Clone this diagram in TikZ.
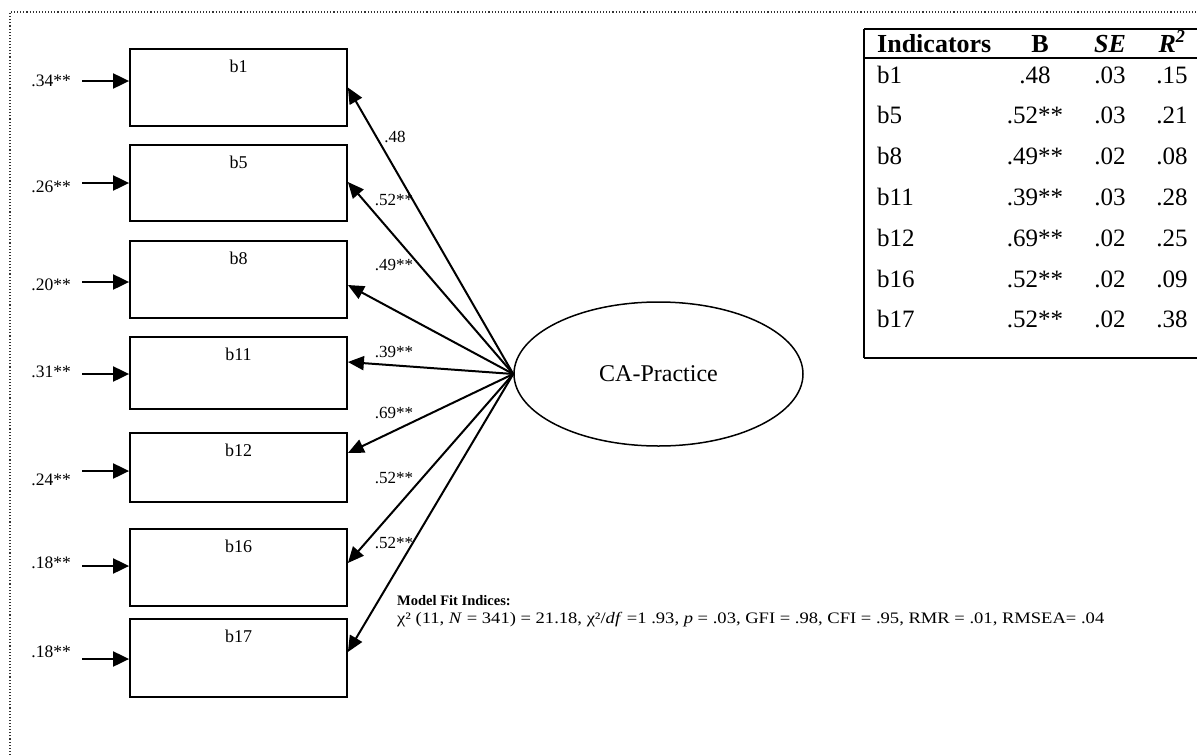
\documentclass[tikz,border=0pt]{standalone}
\usepackage{fontspec}
\setmainfont{Liberation Serif}
\usetikzlibrary{arrows.meta,shapes.geometric}

\begin{document}
\begin{tikzpicture}[x=1pt,y=-1pt,
  ind/.style={draw, line width=1.8pt, minimum width=217pt, inner sep=0pt},
  boxlab/.style={anchor=north, yshift=-12pt, inner sep=0pt, font=\fontsize{18}{20}\selectfont},
  errlab/.style={anchor=east, inner sep=0pt, font=\fontsize{17.5}{19}\selectfont},
  loadlab/.style={inner sep=0pt, font=\fontsize{17}{19}\selectfont},
  inarrow/.style={line width=2pt, -{Triangle[length=16pt,width=15pt]}},
  load/.style={line width=2pt, -{Triangle[length=16pt,width=14pt]}},
  latent/.style={ellipse, draw, line width=1.5pt, minimum width=289pt, minimum height=144pt,
    inner sep=0pt, font=\fontsize{24}{26}\selectfont},
  tabtxt/.style={inner sep=0pt, font=\fontsize{25}{27}\selectfont},
  tabhead/.style={inner sep=0pt, font=\fontsize{26}{28}\selectfont\bfseries},
  rule/.style={line width=2pt},
  fittxt/.style={anchor=base west, inner sep=0pt, font=\fontsize{14.5}{16}\selectfont},
]
\useasboundingbox (0,0) rectangle (1197,755);

% dotted outer frame
\draw[dotted, line width=1.1pt, black!80] (10,755) -- (10,12) -- (1197,12);

% observed indicators
\foreach \n/\yc/\h in {b1/87.5/77, b5/183/76, b8/279.5/77, b11/373/72,
                       b12/467.5/69, b16/567.5/77, b17/658/78}
  \node[ind, minimum height=\h pt, label={[boxlab]north:\n}] (\n) at (238.5,\yc) {};

% error terms
\foreach \n/\ya/\v/\yl in {b1/81/.34**/81, b5/183/.26**/187, b8/282/.20**/285,
                           b11/374/.31**/372, b12/471/.24**/480, b16/566/.18**/563,
                           b17/659/.18**/652}{
  \coordinate (s\n) at (82,\ya);
  \node[errlab] (e\n) at (71,\yl) {\v};
  \draw[inarrow] (s\n) -- (s\n -| \n.west);
}

% latent factor
\node[latent] (ca) at (658.5,374) {CA-Practice};

% factor loadings
\foreach \n/\dy/\v/\lx/\ly in {b1/0/.48/395/137, b5/1/.52**/394/200, b8/-5.5/.49**/394/265,
                               b11/11/.39**/394/352, b12/14.5/.69**/394/413,
                               b16/4.5/.52**/394/478, b17/6/.52**/394/543}{
  \draw[load] (ca.west) -- ([yshift=\dy pt]\n.east);
  \node[loadlab] (l\n) at (\lx,\ly) {\v};
}

% table of estimates
\draw[rule] (864,29) -- (1197,29);
\draw[rule] (864,58) -- (1197,58);
\draw[rule] (864,358) -- (1197,358);
\draw[line width=1.6pt] (864,29) -- (864,358);
\node[tabhead, anchor=base west] (hInd) at (877,52) {Indicators};
\node[tabhead, anchor=base] (hB) at (1040,52) {B};
\node[tabhead, anchor=base] (hSE) at (1110,52) {\textit{SE}};
\node[tabhead, anchor=base] (hR) at (1172,52) {\textit{R\textsuperscript{2}}};
\foreach \i/\n/\b/\se/\r in {1/b1/.48/.03/.15, 2/b5/.52**/.03/.21, 3/b8/.49**/.02/.08,
                             4/b11/.39**/.03/.28, 5/b12/.69**/.02/.25,
                             6/b16/.52**/.02/.09, 7/b17/.52**/.02/.38}{
  \pgfmathsetmacro\yy{83+(\i-1)*40.8}
  \node[tabtxt, anchor=base west] (t\n) at (877,\yy) {\n};
  \node[tabtxt, anchor=base] (tB\n) at (1035,\yy) {\b};
  \node[tabtxt, anchor=base] (tS\n) at (1110,\yy) {\se};
  \node[tabtxt, anchor=base] (tR\n) at (1172,\yy) {\r};
}

% model fit
\node[fittxt, font=\fontsize{14.5}{16}\selectfont\bfseries] (fitT) at (397,605) {Model Fit Indices:};
\node[fittxt, font=\fontsize{16}{18}\selectfont] (fitV) at (397,623)
  {\scalebox{1.16}[1]{χ² (11, \textit{N} = 341) = 21.18, χ²/\textit{df} =1 .93, \textit{p} = .03, GFI = .98, CFI = .95, RMR = .01, RMSEA= .04}};
\end{tikzpicture}
\end{document}
